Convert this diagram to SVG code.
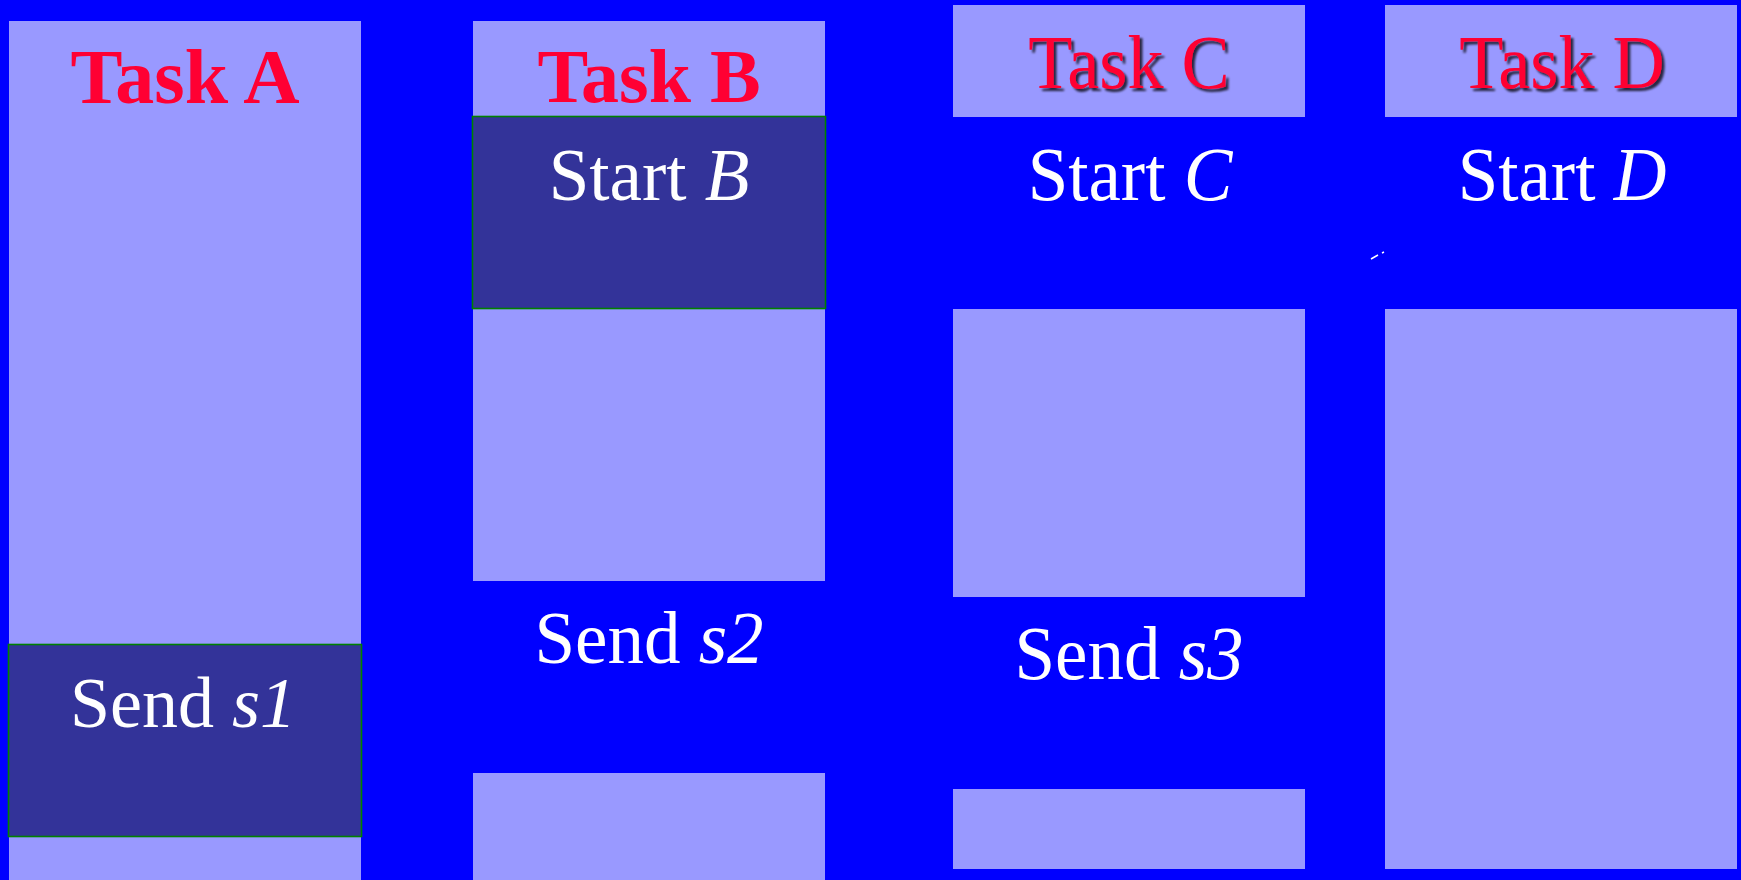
<svg xmlns="http://www.w3.org/2000/svg" width="1741" height="880" viewBox="0 0 1741 880">
<style>
.panel{fill:#9999FF}
.box{fill:#333399;stroke:#008000;stroke-width:1.6}
.title{font-family:"Liberation Serif",serif;font-weight:bold;font-size:77px;fill:#FF0033;text-anchor:middle}
.title2{font-family:"Liberation Serif",serif;font-size:76px;fill:#FF0033;text-anchor:middle;filter:url(#shadow)}
.lbl{font-family:"Liberation Serif",serif;font-size:73px;fill:#FFFFFF;text-anchor:middle}
.lbl2{font-family:"Liberation Serif",serif;font-size:76px;fill:#FFFFFF;text-anchor:middle}
.it{font-style:italic}
</style>
<defs>
<filter id="shadow" x="-10%" y="-10%" width="130%" height="140%">
<feDropShadow dx="3" dy="3" stdDeviation="1.2" flood-color="#000000" flood-opacity="0.75"/>
</filter>
</defs>
<rect x="0" y="0" width="1741" height="880" fill="#0000FF"/>
<g id="taskA">
<rect class="panel" x="9" y="21" width="352" height="859"/>
<text class="title" x="185" y="103" style="font-size:78px">Task A</text>
</g>
<g id="sendS1">
<rect class="box" x="8.5" y="644.5" width="353" height="192"/>
<text class="lbl" x="183" y="727" style="font-size:72px">Send <tspan class="it">s1</tspan></text>
</g>
<g id="taskB">
<rect class="panel" x="473" y="21" width="352" height="560"/>
<rect class="panel" x="473" y="773" width="352" height="107"/>
<text class="title" x="649" y="102" style="font-size:76px">Task B</text>
</g>
<g id="startB">
<rect class="box" x="472.5" y="116.5" width="353" height="192"/>
<text class="lbl" x="649" y="200">Start <tspan class="it">B</tspan></text>
</g>
<g id="sendS2">
<text class="lbl" x="649" y="663">Send <tspan class="it">s2</tspan></text>
</g>
<g id="taskC">
<rect class="panel" x="953" y="5" width="352" height="112"/>
<rect class="panel" x="953" y="309" width="352" height="288"/>
<rect class="panel" x="953" y="789" width="352" height="80"/>
<text class="title2" transform="translate(1129 88) scale(0.95 1)" x="0" y="0">Task C</text>
</g>
<g id="startC">
<text class="lbl2" transform="translate(1130 200) scale(0.96 1)" x="0" y="0">Start <tspan class="it">C</tspan></text>
</g>
<g id="sendS3">
<text class="lbl2" transform="translate(1129 679) scale(0.96 1)" x="0" y="0">Send <tspan class="it">s3</tspan></text>
</g>
<g id="taskD">
<rect class="panel" x="1385" y="5" width="352" height="112"/>
<rect class="panel" x="1385" y="309" width="352" height="560"/>
<text class="title2" transform="translate(1562 88) scale(0.95 1)" x="0" y="0">Task D</text>
</g>
<g id="startD">
<text class="lbl2" transform="translate(1562 200) scale(0.96 1)" x="0" y="0">Start <tspan class="it">D</tspan></text>
</g>
<g id="connectors">
<path d="M1371 259 L1378 255 M1382 253 L1384 252" stroke="#FFFFFF" stroke-width="1.5" fill="none"/>
</g>
</svg>
